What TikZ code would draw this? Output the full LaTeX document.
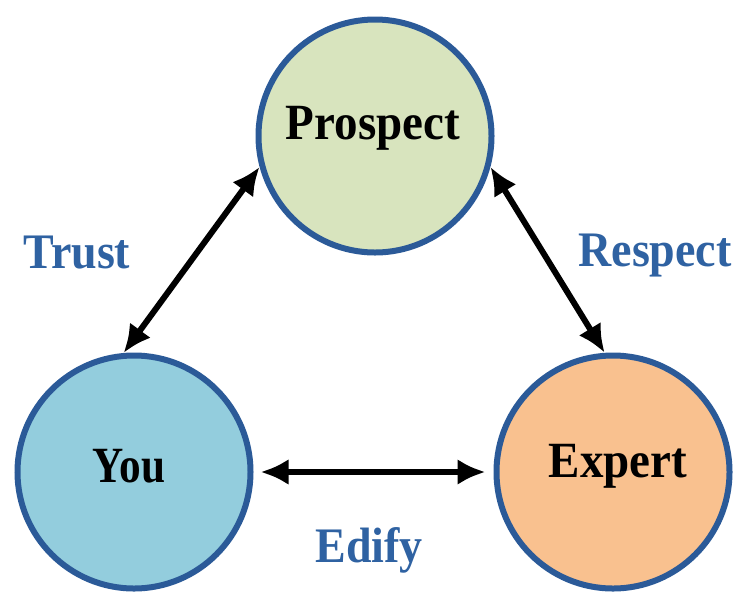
\documentclass[tikz,border=0pt]{standalone}
\usepackage{fontspec}
\setmainfont{Liberation Serif}
\usetikzlibrary{arrows.meta}
\definecolor{ringblue}{HTML}{2B5A98}
\definecolor{wordblue}{HTML}{2F62A2}
\definecolor{prosfill}{HTML}{D8E4BE}
\definecolor{youfill}{HTML}{93CDDD}
\definecolor{expfill}{HTML}{F9C18F}
\begin{document}
\begin{tikzpicture}[x=1pt,y=-1pt,
  party/.style={circle, draw=ringblue, line width=6pt, minimum size=233pt, inner sep=0pt},
  bond/.style={{Latex[length=28pt,width=26pt]}-{Latex[length=28pt,width=26pt]}, line width=6pt, black},
  partyname/.style={font=\fontsize{47}{47}\selectfont\bfseries, yscale=1.08},
  word/.style={text=wordblue, font=\fontsize{46}{46}\selectfont\bfseries, yscale=1.08}]
\useasboundingbox (0,0) rectangle (738,595);
\node[party, fill=prosfill] (pros) at (375,136) {};
\node[party, fill=youfill] (you) at (134,472) {};
\node[party, fill=expfill] (exp) at (613,472) {};
\node[partyname] (prostext) at (373,128) {Prospect};
\node[partyname, xscale=0.92] (youtext) at (129,466) {You};
\node[partyname] (exptext) at (618,466) {Expert};
% links
\draw[bond] (you.95) -- (pros.195);
\draw[bond] (pros.-15) -- (exp.94);
\draw[bond] ([xshift=7pt]you.east) -- ([xshift=-8pt]exp.west);
\node[word] (trust) at (77,253) {Trust};
\node[word] (respect) at (655,256) {Respect};
\node[word] (edify) at (369,550) {Edify};
\end{tikzpicture}
\end{document}
